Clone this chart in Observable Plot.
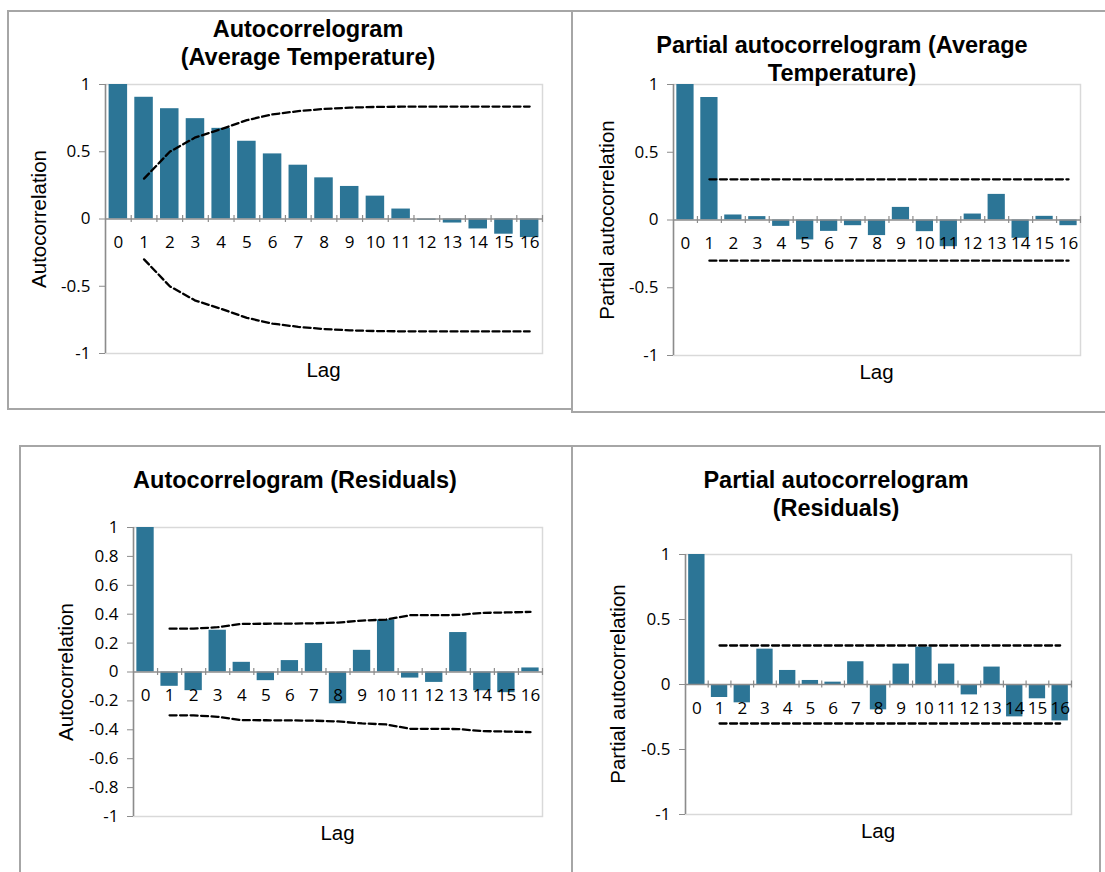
<!DOCTYPE html>
<html>
<head>
<meta charset="utf-8">
<script src="https://cdn.jsdelivr.net/npm/d3@7"></script>
<script src="https://cdn.jsdelivr.net/npm/@observablehq/plot@0.6"></script>
<style>
  html, body { margin: 0; padding: 0; background: #ffffff; }
  #root { position: relative; width: 1105px; height: 872px; overflow: hidden; background: #fff; }
  .frame { position: absolute; border: 2px solid #a6a6a6; box-sizing: border-box; }
  .title { position: absolute; font-family: "Liberation Sans", Arial, sans-serif; font-weight: bold; font-size: 23.5px;
           line-height: 28px; text-align: center; white-space: nowrap; transform: translateX(-50%); color: #000; }
  .ytitle { position: absolute; font-family: "Liberation Sans", Arial, sans-serif; font-size: 20.5px; line-height: 1;
            white-space: nowrap; transform: translate(-50%, -50%) rotate(-90deg); color: #000; }
  .xtitle { position: absolute; font-family: "Liberation Sans", Arial, sans-serif; font-size: 20.5px; line-height: 1;
            white-space: nowrap; transform: translateX(-50%); color: #000; }
  svg { position: absolute; overflow: visible; }
</style>
</head>
<body>
<div id="root"></div>
<script>
// ---------- data ----------
const lags = [0, 1, 2, 3, 4, 5, 6, 7, 8, 9, 10, 11, 12, 13, 14, 15, 16];
const bandLags = [1, 2, 3, 4, 5, 6, 7, 8, 9, 10, 11, 12, 13, 14, 15, 16];

const acfTemp = [1, 0.905, 0.82, 0.746, 0.674, 0.578, 0.484, 0.40, 0.306, 0.242, 0.17, 0.074, -0.01, -0.03, -0.074, -0.113, -0.138];
const acfTempUpper = [0.30, 0.50, 0.607, 0.668, 0.735, 0.778, 0.802, 0.818, 0.828, 0.833, 0.835, 0.835, 0.836, 0.836, 0.836, 0.836];
const acfTempLower = [-0.30, -0.50, -0.607, -0.668, -0.735, -0.778, -0.802, -0.818, -0.828, -0.833, -0.835, -0.835, -0.836, -0.836, -0.836, -0.836];

const pacfTemp = [1, 0.904, 0.037, 0.025, -0.047, -0.147, -0.084, -0.042, -0.115, 0.093, -0.086, -0.197, 0.044, 0.189, -0.135, 0.027, -0.042];
const pacfTempUpper = [0.30, 0.30, 0.30, 0.30, 0.30, 0.30, 0.30, 0.30, 0.30, 0.30, 0.30, 0.30, 0.30, 0.30, 0.30, 0.30];
const pacfTempLower = [-0.30, -0.30, -0.30, -0.30, -0.30, -0.30, -0.30, -0.30, -0.30, -0.30, -0.30, -0.30, -0.30, -0.30, -0.30, -0.30];

const acfRes = [1, -0.099, -0.129, 0.289, 0.067, -0.06, 0.079, 0.197, -0.22, 0.15, 0.361, -0.042, -0.072, 0.273, -0.13, -0.143, 0.028];
const acfResUpper = [0.30, 0.30, 0.31, 0.333, 0.334, 0.335, 0.337, 0.342, 0.356, 0.363, 0.393, 0.393, 0.395, 0.409, 0.412, 0.416];
const acfResLower = [-0.30, -0.30, -0.31, -0.333, -0.334, -0.335, -0.337, -0.342, -0.356, -0.363, -0.393, -0.393, -0.395, -0.409, -0.412, -0.416];

const pacfRes = [1, -0.10, -0.141, 0.272, 0.108, 0.031, 0.018, 0.175, -0.195, 0.157, 0.288, 0.157, -0.08, 0.134, -0.249, -0.11, -0.28];
const pacfResUpper = [0.30, 0.30, 0.30, 0.30, 0.30, 0.30, 0.30, 0.30, 0.30, 0.30, 0.30, 0.30, 0.30, 0.30, 0.30, 0.30];
const pacfResLower = [-0.30, -0.30, -0.30, -0.30, -0.30, -0.30, -0.30, -0.30, -0.30, -0.30, -0.30, -0.30, -0.30, -0.30, -0.30, -0.30];

const yTicksHalf = [-1, -0.5, 0, 0.5, 1];
const yTicksFifth = [-1, -0.8, -0.6, -0.4, -0.2, 0, 0.2, 0.4, 0.6, 0.8, 1];

const titles = [
  ["Autocorrelogram", "(Average Temperature)"],
  ["Partial autocorrelogram (Average", "Temperature)"],
  ["Autocorrelogram (Residuals)"],
  ["Partial autocorrelogram", "(Residuals)"]
];
const yTitles = ["Autocorrelation", "Partial autocorrelation", "Autocorrelation", "Partial autocorrelation"];
const xTitle = "Lag";

// ---------- styles / layout ----------
const BAR = "#2c7596";
const AXIS = "#8c8c8c";
const FRAME = "#d9d9d9";
const TICKFONT = 17;

const root = document.getElementById("root");

const frames = [
  {left: 7, top: 10, width: 566, height: 400},
  {left: 571, top: 10, width: 560, height: 403},
  {left: 19, top: 445, width: 554, height: 460},
  {left: 571, top: 445, width: 530, height: 460}
];
frames.forEach(f => {
  const d = document.createElement("div");
  d.className = "frame";
  Object.assign(d.style, {left: f.left + "px", top: f.top + "px", width: f.width + "px", height: f.height + "px"});
  root.appendChild(d);
});

const panels = [
  {values: acfTemp, upper: acfTempUpper, lower: acfTempLower, yTicks: yTicksHalf,
   rect: {x0: 105, x1: 542, y0: 84, y1: 353}, titleX: 308, titleTop: 15, yTitleX: 38.5},
  {values: pacfTemp, upper: pacfTempUpper, lower: pacfTempLower, yTicks: yTicksHalf,
   rect: {x0: 673, x1: 1080, y0: 84, y1: 355}, titleX: 842, titleTop: 31, yTitleX: 607},
  {values: acfRes, upper: acfResUpper, lower: acfResLower, yTicks: yTicksFifth,
   rect: {x0: 133, x1: 542, y0: 527, y1: 816}, titleX: 295, titleTop: 466, yTitleX: 65.5},
  {values: pacfRes, upper: pacfResUpper, lower: pacfResLower, yTicks: yTicksHalf,
   rect: {x0: 685, x1: 1071, y0: 554, y1: 814}, titleX: 836, titleTop: 465.5, yTitleX: 617.5}
];

panels.forEach((p, k) => {
  const r = p.rect;
  const data = lags.map((lag, i) => ({lag, v: p.values[i]}));
  const up = bandLags.map((lag, i) => ({lag, v: p.upper[i]}));
  const lo = bandLags.map((lag, i) => ({lag, v: p.lower[i]}));
  const bounds = lags.map(l => l + 0.5);
  const mL = 50, mT = 16, mR = 14, mB = 44;
  const chart = Plot.plot({
    width: r.x1 - r.x0 + mL + mR,
    height: r.y1 - r.y0 + mT + mB,
    marginLeft: mL, marginRight: mR, marginTop: mT, marginBottom: mB,
    x: {type: "linear", domain: [-0.5, 16.5], axis: null},
    y: {domain: [-1, 1], axis: null},
    style: {fontFamily: "'Open Sans', sans-serif", fontSize: TICKFONT + "px", color: "#000", background: "transparent", overflow: "visible"},
    marks: [
      Plot.frame({stroke: FRAME, strokeWidth: 1.5}),
      Plot.rectY(data, {x1: d => d.lag - 0.36, x2: d => d.lag + 0.36, y1: 0, y2: "v", fill: BAR}),
      Plot.ruleY([0], {stroke: AXIS, strokeWidth: 1.5}),
      Plot.ruleX(bounds, {x: d => d, y1: 0, y2: 0, insetTop: -3.5, insetBottom: -3.5, stroke: AXIS, strokeWidth: 1.2}),
      Plot.ruleX([-0.5], {stroke: AXIS, strokeWidth: 1.5}),
      Plot.axisY({ticks: p.yTicks, tickSize: 6, tickPadding: 9, tickFormat: d => String(d), stroke: AXIS, fill: "#000", fontSize: TICKFONT, label: null}),
      Plot.line(up, {x: "lag", y: "v", stroke: "#000", strokeWidth: 2.3, strokeDasharray: "7,3.5"}),
      Plot.line(lo, {x: "lag", y: "v", stroke: "#000", strokeWidth: 2.3, strokeDasharray: "7,3.5"}),
      Plot.text(data, {x: "lag", y: 0, text: d => String(d.lag), dy: 24, fill: "#000", fontSize: TICKFONT, lineAnchor: "middle"})
    ]
  });
  chart.style.left = (r.x0 - mL) + "px";
  chart.style.top = (r.y0 - mT) + "px";
  root.appendChild(chart);

  const t = document.createElement("div");
  t.className = "title";
  t.innerHTML = titles[k].join("<br>");
  t.style.left = p.titleX + "px";
  t.style.top = p.titleTop + "px";
  root.appendChild(t);

  const yt = document.createElement("div");
  yt.className = "ytitle";
  yt.textContent = yTitles[k];
  yt.style.left = p.yTitleX + "px";
  yt.style.top = ((r.y0 + r.y1) / 2) + "px";
  root.appendChild(yt);

  const xt = document.createElement("div");
  xt.className = "xtitle";
  xt.textContent = xTitle;
  xt.style.left = ((r.x0 + r.x1) / 2) + "px";
  xt.style.top = (r.y1 + 6.5) + "px";
  root.appendChild(xt);
});
</script>
</body>
</html>
